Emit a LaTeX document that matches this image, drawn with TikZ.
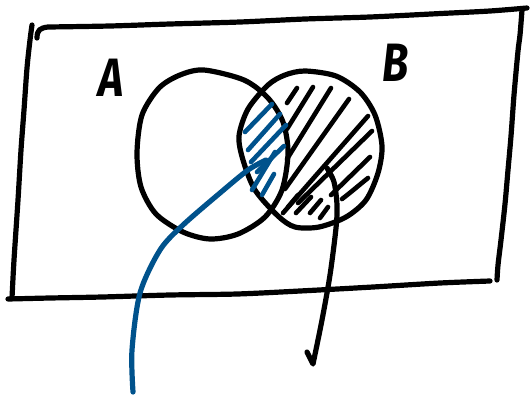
\documentclass[tikz,border=0pt]{standalone}
\usepackage{fontspec}
\setmainfont{Fira Sans}
\definecolor{penblue}{RGB}{0,82,140}
\begin{document}
\begin{tikzpicture}[x=1pt,y=-1pt, line cap=round, line join=round,
  ink/.style={line width=5.2pt, draw=black},
  hatchk/.style={line width=4.6pt, draw=black},
  hatchb/.style={line width=4.6pt, draw=penblue},
  lab/.style={font=\fontsize{54}{58}\selectfont\bfseries\itshape, inner sep=0pt, xscale=0.8}]
\useasboundingbox (0,0) rectangle (532,399);
% frame (universe)
\draw[ink] (37,38) .. controls (37,30) and (40,28) .. (48,27)
  plot[smooth] coordinates {(48,27) (110,26) (170,24) (240,22) (305,19) (370,17) (441,13.5) (490,11) (527,8)};
\draw[ink] plot[smooth] coordinates {(522,10) (520,35) (518,51) (514,95) (511,136) (508,170) (505,204) (501,240) (498,265) (497,280)};
\draw[ink] plot[smooth] coordinates {(490,281) (440,283) (373,287) (300,291) (237,294) (170,295) (102,297) (50,298) (8,299)};
\draw[ink] plot[smooth] coordinates {(12,298) (14,260) (18,200) (21,150) (24,110) (27,68) (30,40) (32,25)};
% circle A
\draw[ink] plot[smooth cycle] coordinates {(204,70) (244,80) (268,98) (283,122) (288,153) (282,190) (265,217) (238,234) (210,239) (183,232) (156,214) (141,187) (137,153) (142,115) (159,88) (180,75)};
% circle B
\draw[ink] plot[smooth cycle] coordinates {(305,71) (336,76) (360,92) (375,115) (382,146) (378,173) (366,200) (346,217) (319,227) (295,227) (278,216) (255,190) (243,160) (239,136) (248,109) (268,85) (285,75)};
% labels
\node[lab] (labA) at (111,78) {A};
\node[lab] (labB) at (396,63) {B};
% black hatching: B without A
\draw[hatchk] (297,88) -- (287,103);
\draw[hatchk] (313,87) -- (287,129);
\draw[hatchk] (331,88) -- (287,159);
\draw[hatchk] (349,99) -- (285,189);
\draw[hatchk] (368,116) -- (283,213);
\draw[hatchk] (372,131) -- (298,203);
\draw[hatchk] (370,157) -- (331,195);
\draw[hatchk] (368,178) .. controls (358,186) and (350,193) .. (342,199);
\draw[hatchk] (288,207) -- (298,195);
\draw[hatchk] (296,213) -- (311,197);
\draw[hatchk] (310,213) -- (321,200);
\draw[hatchk] (320,218) -- (328,207);
% blue hatching: A and B
\draw[hatchb] (272,104) -- (245,132);
\draw[hatchb] (280,114) -- (248,150);
\draw[hatchb] (286,125) -- (251,162);
\draw[hatchb] (284,146) -- (257,172);
\draw[hatchb] (275,152) -- (252,190);
\draw[hatchb] (274,174) -- (262,195);
% leader curves
\coordinate (blueEnd) at (133,392);
\coordinate (blueTip) at (266,160);
\coordinate (blackTip) at (327,168);
\coordinate (blackEnd) at (307,352);
\draw[ink, draw=penblue] plot[smooth] coordinates {(blueEnd) (132,350) (140,293) (160,250) (183,225) (220,193) (248,170) (blueTip)};
\draw[ink] plot[smooth] coordinates {(blackTip) (334,182) (337,205) (336,228) (330,275) (322,320) (313,364)} -- (blackEnd);
\end{tikzpicture}
\end{document}
